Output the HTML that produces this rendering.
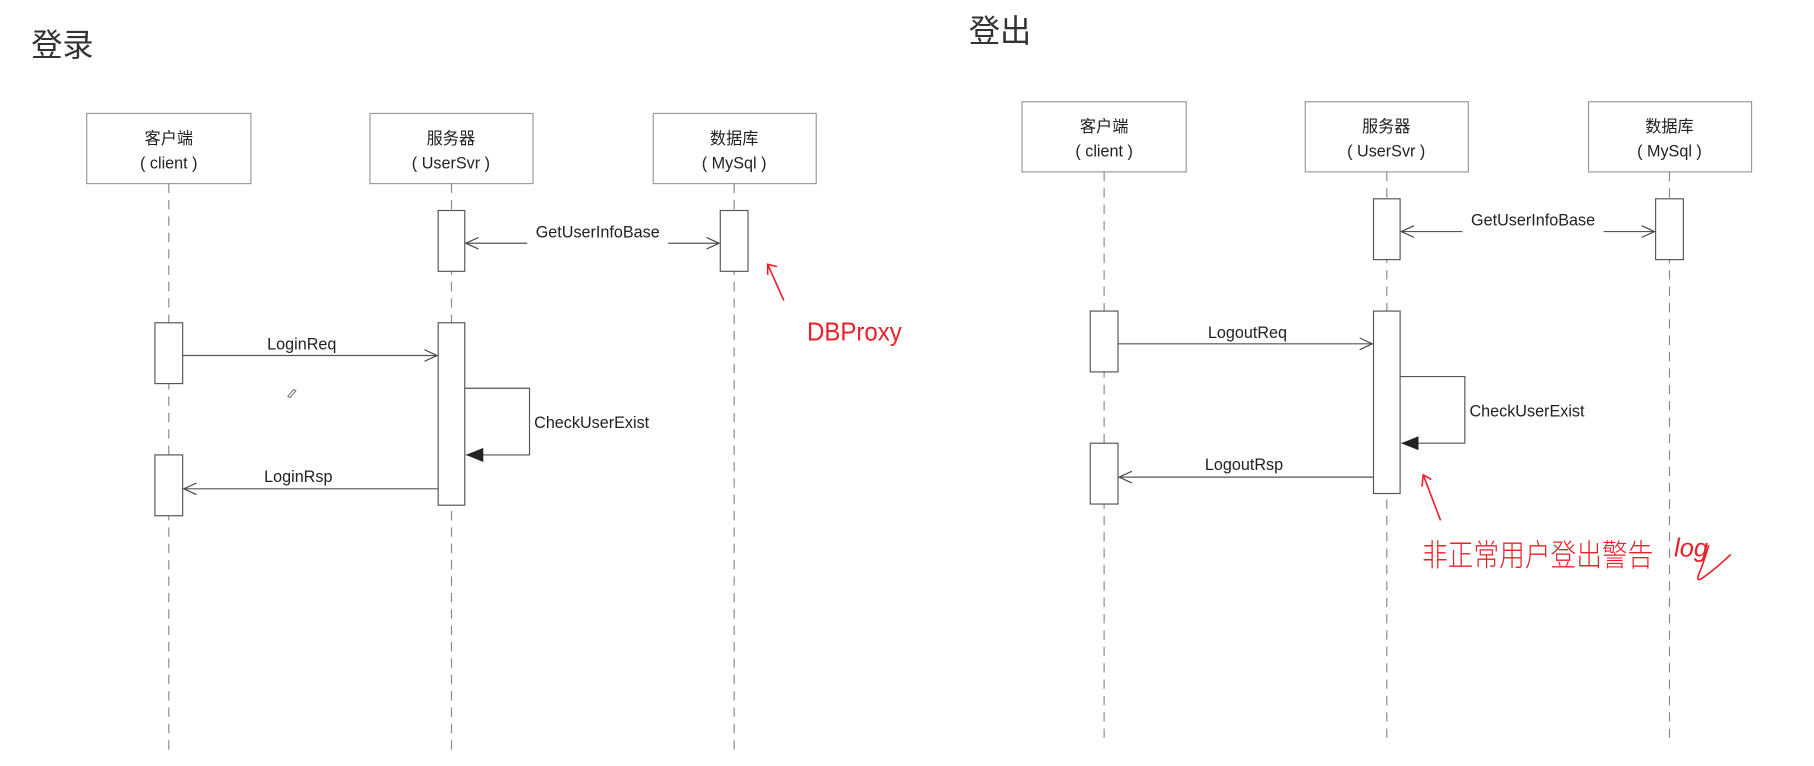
<!DOCTYPE html>
<html><head><meta charset="utf-8"><style>
html,body{margin:0;padding:0;background:#fff;width:1814px;height:766px;overflow:hidden}
svg text{font-family:"Liberation Sans","Noto Sans CJK SC",sans-serif;fill:#222}
</style></head><body>
<svg width="1814" height="766" viewBox="0 0 1569 655" preserveAspectRatio="none" xmlns="http://www.w3.org/2000/svg">
<defs>
<marker id="open" markerWidth="12" markerHeight="12" refX="11" refY="6" orient="auto" markerUnits="userSpaceOnUse"><path d="M0,1 L11,6 L0,11" fill="none" stroke="#444" stroke-width="1"/></marker>
<marker id="fill" markerWidth="16" markerHeight="12" refX="15" refY="6" orient="auto" markerUnits="userSpaceOnUse"><path d="M0,0 L15,6 L0,12 z" fill="#222"/></marker>
<g id="diag">
 <g fill="#fff" stroke="#999" stroke-width="1">
  <rect x="75" y="97" width="142" height="60"/>
  <rect x="320" y="97" width="141" height="60"/>
  <rect x="565" y="97" width="141" height="60"/>
 </g>
 <g stroke="#888" stroke-width="1" stroke-dasharray="8,6">
  <line x1="146" y1="157" x2="146" y2="645"/>
  <line x1="390.5" y1="157" x2="390.5" y2="645"/>
  <line x1="635" y1="157" x2="635" y2="645"/>
 </g>
 <g fill="#fff" stroke="#555" stroke-width="1">
  <rect x="379" y="180" width="23" height="52"/>
  <rect x="623" y="180" width="24" height="52"/>
  <rect x="134" y="276" width="24" height="52"/>
  <rect x="379" y="276" width="23" height="156"/>
  <rect x="134" y="389" width="24" height="52"/>
 </g>
 <g stroke="#555" stroke-width="1" fill="none">
  <line x1="456" y1="208" x2="403" y2="208" marker-end="url(#open)"/>
  <line x1="578" y1="208" x2="622" y2="208" marker-end="url(#open)"/>
  <line x1="158" y1="304" x2="378" y2="304" marker-end="url(#open)"/>
  <polyline points="402,332 458,332 458,389 403,389" marker-end="url(#fill)"/>
  <line x1="379" y1="418" x2="159" y2="418" marker-end="url(#open)"/>
 </g>
 <g font-size="14">
  <text x="146" y="123" text-anchor="middle">客户端</text>
  <text x="146" y="144" text-anchor="middle">( client )</text>
  <text x="390" y="123" text-anchor="middle">服务器</text>
  <text x="390" y="144" text-anchor="middle">( UserSvr )</text>
  <text x="635" y="123" text-anchor="middle">数据库</text>
  <text x="635" y="144" text-anchor="middle">( MySql )</text>
  <text x="517" y="203" text-anchor="middle">GetUserInfoBase</text>
  <text x="462" y="366">CheckUserExist</text>
 </g>
</g>
</defs>

<text x="27" y="48" font-size="27" style="fill:#333">登录</text>
<use href="#diag"/>
<g font-size="14">
 <text x="261" y="299" text-anchor="middle">LoginReq</text>
 <text x="258" y="412" text-anchor="middle">LoginRsp</text>
</g>
<path d="M249,339 l5,-6 l2,1 l-5,6 z" fill="none" stroke="#666" stroke-width="0.8"/>
<g stroke="#e8202a" stroke-width="1.4" fill="none">
 <line x1="678" y1="257" x2="664" y2="226"/>
 <path d="M664,235 L664,226 L672,228"/>
 <line x1="1246" y1="445" x2="1231" y2="406"/>
 <path d="M1230,416 L1231,406 L1238,410"/>
 <path d="M1478,466 q-4,14 -9,26 q-2,6 4,2 q14,-10 24,-20"/>
</g>
<text x="698" y="291" font-size="22" style="fill:#e8202a;font-weight:300" textLength="82" lengthAdjust="spacingAndGlyphs">DBProxy</text>

<text x="838" y="36" font-size="27" style="fill:#333">登出</text>
<g transform="translate(809,-10)">
 <use href="#diag"/>
 <g font-size="14">
  <text x="270" y="299" text-anchor="middle">LogoutReq</text>
  <text x="267" y="412" text-anchor="middle">LogoutRsp</text>
 </g>
</g>
<text x="1230" y="484" font-size="26" style="fill:#e8202a;font-weight:300" textLength="200" lengthAdjust="spacingAndGlyphs">非正常用户登出警告</text>
<text x="1448" y="476" font-size="22" style="fill:#e8202a;font-style:italic">log</text>
</svg>
</body></html>
